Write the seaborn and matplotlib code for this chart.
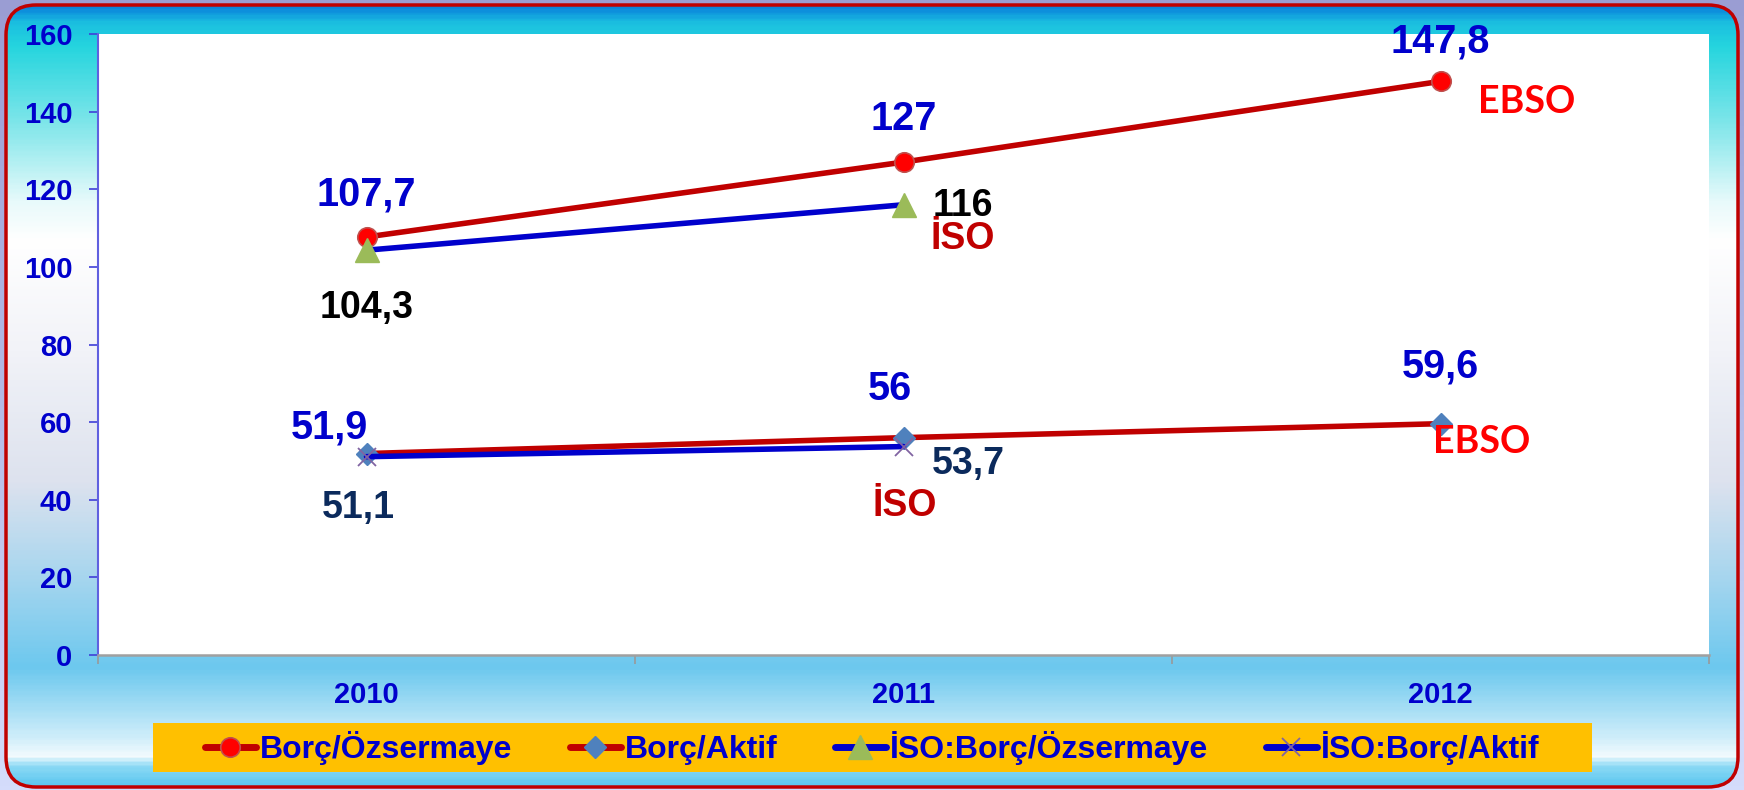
import numpy as np
import pandas as pd
import matplotlib
matplotlib.use("Agg")
import matplotlib.pyplot as plt
import seaborn as sns
from matplotlib.colors import LinearSegmentedColormap
from matplotlib.patches import FancyBboxPatch, Rectangle

# ---------------- data ----------------
years = ["2010", "2011", "2012"]
borc_ozsermaye = [107.7, 127.0, 147.8]
borc_aktif = [51.9, 56.0, 59.6]
iso_borc_ozsermaye = [104.3, 116.0, np.nan]
iso_borc_aktif = [51.1, 53.7, np.nan]
series_names = ["Borç/Özsermaye", "Borç/Aktif", "İSO:Borç/Özsermaye", "İSO:Borç/Aktif"]
y_ticks = [0, 20, 40, 60, 80, 100, 120, 140, 160]

sns.set_style("white")
plt.rcParams["font.family"] = ["Liberation Sans", "DejaVu Sans"]
plt.rcParams["font.weight"] = "bold"

W, H = 1744, 790
fig = plt.figure(figsize=(W / 100, H / 100), dpi=100)

# ---------------- background ----------------
bg = fig.add_axes([0, 0, 1, 1], zorder=-10)
bg.set_xlim(0, W)
bg.set_ylim(H, 0)
bg.axis("off")
outer_cmap = LinearSegmentedColormap.from_list("outer", ["#9A9DD3", "#B4BAE6", "#D4DCFB"])
bg.imshow(np.linspace(0, 1, 200).reshape(-1, 1), cmap=outer_cmap, extent=(0, W, H, 0), aspect="auto")

stops = [(0.0, "#0A84DC"), (0.02, "#1BBFE0"), (0.05, "#25D5DE"), (0.15, "#80E6EA"),
         (0.25, "#E8FAFB"), (0.30, "#FFFFFF"), (0.44, "#F2F3F8"), (0.61, "#DDE2EE"),
         (0.73, "#A8D6EE"), (0.85, "#6CC8EE"), (0.94, "#D0EEFA"), (0.965, "#F4FBFE"),
         (0.975, "#8EDAF5"), (1.0, "#5FC8F0")]
inner_cmap = LinearSegmentedColormap.from_list("inner", stops)
x0, x1, y0, y1, r = 6, 1738, 5, 787, 30
im = bg.imshow(np.linspace(0, 1, 400).reshape(-1, 1), cmap=inner_cmap,
               extent=(x0, x1, y1, y0), aspect="auto")
clip = FancyBboxPatch((x0 + r, y0 + r), (x1 - x0) - 2 * r, (y1 - y0) - 2 * r,
                      boxstyle=f"round,pad={r}", transform=bg.transData,
                      facecolor="none", edgecolor="none")
bg.add_patch(clip)
im.set_clip_path(clip)
border = FancyBboxPatch((x0 + r, y0 + r), (x1 - x0) - 2 * r, (y1 - y0) - 2 * r,
                        boxstyle=f"round,pad={r}", transform=bg.transData,
                        facecolor="none", edgecolor="#C00000", lw=2.5)
bg.add_patch(border)
# legend box
bg.add_patch(Rectangle((153, 723), 1592 - 153, 49, facecolor="#FFC000", edgecolor="none"))

# ---------------- main axes ----------------
ax = fig.add_axes([98 / W, (H - 655) / H, (1709 - 98) / W, (655 - 34) / H])
ax.set_facecolor("white")
xs = np.arange(len(years))

styles = [
    dict(color="#C00000", marker="o", markersize=14, markerfacecolor="#FF0000", markeredgecolor="#C0504D", markeredgewidth=1.2),
    dict(color="#C00000", marker="D", markersize=11, markerfacecolor="#4F81BD", markeredgecolor="#4F81BD", markeredgewidth=1),
    dict(color="#0000CC", marker="^", markersize=17, markerfacecolor="#9BBB59", markeredgecolor="#9BBB59", markeredgewidth=1),
    dict(color="#0000CC", marker="x", markersize=13, markerfacecolor="none", markeredgecolor="#8064A2", markeredgewidth=1.3),
]
all_vals = [borc_ozsermaye, borc_aktif, iso_borc_ozsermaye, iso_borc_aktif]
for vals, name, st in zip(all_vals, series_names, styles):
    sns.lineplot(x=xs, y=vals, ax=ax, label=name, linewidth=4.0, **st)

handles, labels = ax.get_legend_handles_labels()
if ax.get_legend():
    ax.get_legend().remove()

ax.set_xlim(-0.5, 2.5)
ax.set_ylim(0, 160)
ax.set_yticks(y_ticks)
ax.set_yticklabels([str(v) for v in y_ticks])
ax.set_xticks(xs)
ax.set_xticklabels(years)
ax.set_xticks([-0.5, 0.5, 1.5, 2.5], minor=True)
ax.tick_params(axis="y", which="major", labelsize=21, labelcolor="#0000CC", color="#4040D8",
               length=6.5, width=1.2, pad=12, direction="out", left=True)
ax.tick_params(axis="x", which="major", labelsize=21, labelcolor="#0000CC", length=0, pad=19)
ax.tick_params(axis="x", which="minor", length=6.5, width=1.2, color="#999999", direction="out", bottom=True)
for lab in ax.get_xticklabels() + ax.get_yticklabels():
    lab.set_fontweight("bold")
for s in ["top", "right"]:
    ax.spines[s].set_visible(False)
ax.spines["left"].set_color("#6060E0")
ax.spines["left"].set_linewidth(1.5)
ax.spines["bottom"].set_color("#A0A0A0")
ax.spines["bottom"].set_linewidth(1.8)
ax.set_xlabel("")
ax.set_ylabel("")

def fmt(v):
    return f"{v:g}".replace(".", ",")

# value labels (offsets relative to each point)
offsets = [
    [(0, 11), (0, 11.2), (0, 10.2)],
    [(-0.07, 6.6), (-0.026, 12.5), (0, 14.7)],
    [(0, -14.8), (0.11, -0.4), None],
    [(-0.015, -13.2), (0.12, -4.4), None],
]
colors = ["#0000CC", "#0000CC", "#000000", "#0B2A5C"]
sizes = [28.5, 28.5, 27, 27]
for vals, offs, c, fs in zip(all_vals, offsets, colors, sizes):
    for i, (v, o) in enumerate(zip(vals, offs)):
        if o is None or np.isnan(v):
            continue
        ax.text(xs[i] + o[0], v + o[1], fmt(v), color=c, fontsize=fs, fontweight="bold",
                ha="center", va="center")

ax.text(2.16, 142.5, "EBSO", color="#FF0000", fontsize=27, fontweight="bold",
        family=["Lato", "DejaVu Sans"], ha="center", va="center")
ax.text(2.077, 54.8, "EBSO", color="#FF0000", fontsize=27, fontweight="bold",
        family=["Lato", "DejaVu Sans"], ha="center", va="center")
ax.text(1.11, 107.2, "İSO", color="#C00000", fontsize=27, fontweight="bold", ha="center", va="center")
ax.text(1.003, 38.4, "İSO", color="#C00000", fontsize=27, fontweight="bold", ha="center", va="center")

leg = fig.legend(handles, labels, loc="center", bbox_to_anchor=(872 / W, 1 - 748 / H), ncol=4,
                 frameon=False, prop={"size": 23, "weight": "bold"}, labelcolor="#0000CC",
                 handlelength=1.6, handletextpad=0.12, columnspacing=1.8)
for lh in leg.get_lines():
    lh.set_linewidth(5)

fig.savefig("out.png", dpi=100)
